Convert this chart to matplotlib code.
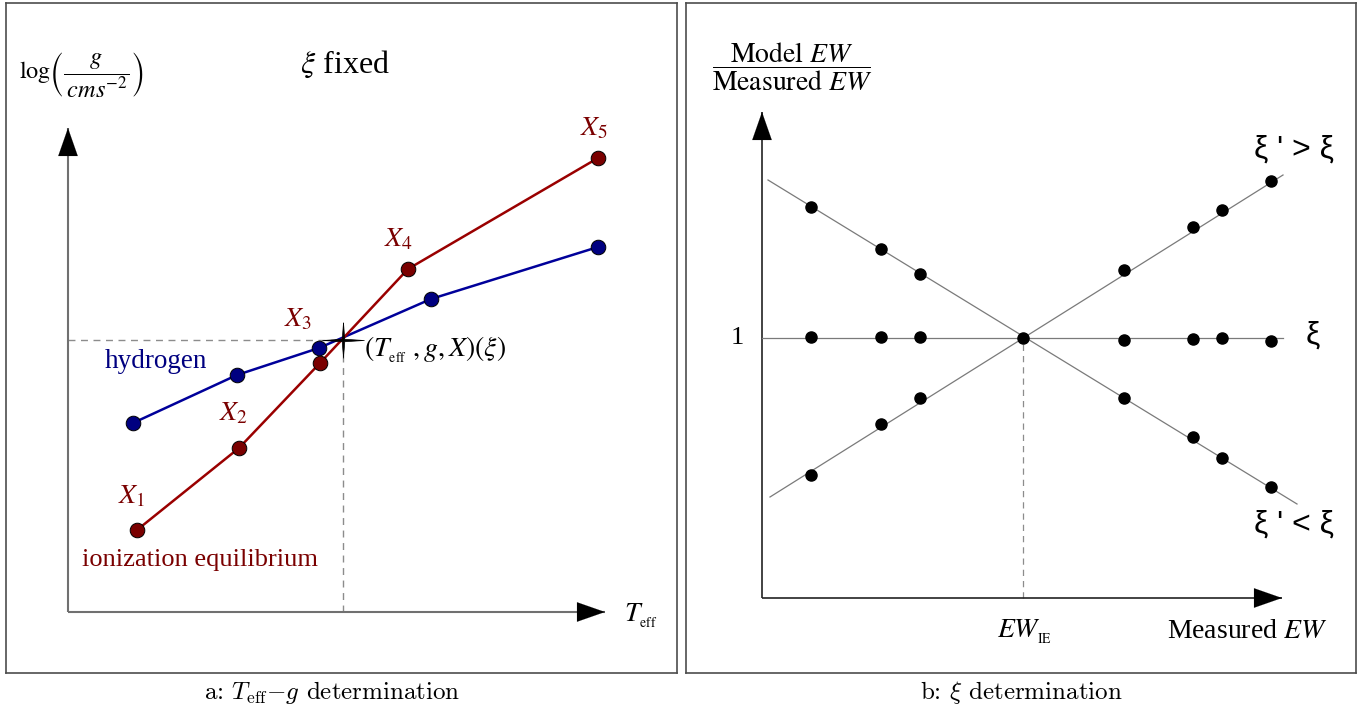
import matplotlib
matplotlib.use("Agg")
import matplotlib.pyplot as plt
from matplotlib.path import Path
import numpy as np

# ---------------- data (schematic units, origin at the axes' corner) ----------------
# panel a: T_eff - log g plane
teff_h = [65, 169, 251, 363, 530]          # hydrogen sequence
logg_h = [189, 237, 264, 313, 365]
teff_ion = [69, 171, 252, 340, 530]        # ionization equilibrium sequence
logg_ion = [82, 164, 249, 343, 454]
x_labels = ["$X_1$", "$X_2$", "$X_3$", "$X_4$", "$X_5$"]
teff_sol, logg_sol = 275, 272              # intersection (solution)

# panel b: model/measured EW vs measured EW
ew = [49, 119, 158, 362, 431, 460, 509]
ratio_low = [391, 349, 324, 200, 161, 140, 111]     # xi' < xi
ratio_mid = [261, 261, 261, 258, 259, 260, 257]     # xi
ratio_high = [123, 174, 200, 328, 371, 388, 417]    # xi' > xi
ew_ie, ratio_one = 261, 260
line_low_x, line_low_y = [6, 535], [418, 94]
line_high_x, line_high_y = [8, 521], [101, 423]
line_mid_x, line_mid_y = [0, 521], [260, 260]

RED_LINE = "#9a0000"
RED_PT = "#7a0000"
BLUE_LINE = "#00009a"
BLUE_PT = "#000080"

plt.rcParams["mathtext.fontset"] = "stix"
SERIF = ["Liberation Serif", "DejaVu Serif"]

W, H = 1362, 707
fig = plt.figure(figsize=(W / 100, H / 100), dpi=100)


def make_axes(box, origin):
    x0, y0, x1, y1 = box           # pixel box (top-left, bottom-right)
    ox, oy = origin
    ax = fig.add_axes([x0 / W, (H - y1) / H, (x1 - x0) / W, (y1 - y0) / H])
    ax.set_xlim(x0 - ox, x1 - ox)
    ax.set_ylim(oy - y1, oy - y0)
    ax.set_xticks([])
    ax.set_yticks([])
    for s in ax.spines.values():
        s.set_color("#4d4d4d")
        s.set_linewidth(1.2)
    return ax


def axis_arrow(ax, x0, y0, x1, y1, lcolor, lw):
    ax.plot([x0, x1], [y0, y1], color=lcolor, lw=lw, solid_capstyle="butt", zorder=2)
    dx, dy = (x1 - x0), (y1 - y0)
    n = np.hypot(dx, dy)
    ax.annotate("", xy=(x1, y1), xytext=(x1 - dx / n * 25, y1 - dy / n * 25),
                arrowprops=dict(arrowstyle="-|>,head_length=1.0,head_width=0.35",
                                color="black", lw=0.1, shrinkA=0, shrinkB=0,
                                mutation_scale=20), zorder=3)


# ---------------- panel a ----------------
axa = make_axes((6, 3, 677, 673), (68, 612))
axis_arrow(axa, 0, 0, 0, 484, "#707070", 1.5)
axis_arrow(axa, 0, 0, 537, 0, "#707070", 1.5)

axa.plot([0, teff_sol], [logg_sol, logg_sol], ls=(0, (5, 4)), color="#8c8c8c", lw=1.0, zorder=1)
axa.plot([teff_sol, teff_sol], [0, logg_sol], ls=(0, (5, 4)), color="#8c8c8c", lw=1.0, zorder=1)

axa.plot(teff_h, logg_h, color=BLUE_LINE, lw=1.8, zorder=4,
         marker="o", ms=10.5, mfc=BLUE_PT, mec="black", mew=0.7)
axa.plot(teff_ion, logg_ion, color=RED_LINE, lw=1.8, zorder=5,
         marker="o", ms=10.5, mfc=RED_PT, mec="black", mew=0.7)

star = Path([(0, 0.85), (0.06, 0.06), (1, 0), (0.06, -0.06), (0, -0.85),
             (-0.06, -0.06), (-1, 0), (-0.06, 0.06), (0, 0.85)])
axa.plot([teff_sol], [logg_sol], marker=star, ms=30, color="black", mew=0.5, zorder=6)

offsets = [(-4, 24), (-4, 25), (-16, 31), (-7, 21), (-3, 21)]
for lab, x, y, off in zip(x_labels, teff_ion, logg_ion, offsets):
    axa.annotate(lab, (x, y), xytext=off, textcoords="offset points",
                 ha="center", va="center", fontsize=20, color=RED_PT, family=SERIF)

axa.text(37, 250, "hydrogen", fontsize=19.5, color=BLUE_PT, family=SERIF, ha="left", va="center")
axa.text(14, 52, "ionization equilibrium", fontsize=19, color=RED_PT, family=SERIF,
         ha="left", va="center")
axa.text(296, 262, r"$(T_{_{\rm eff}}\ , g, X)(\xi)$", fontsize=20, family=SERIF,
         ha="left", va="center")
axa.text(232, 548, r"$\xi$ fixed", fontsize=23, family=SERIF, ha="left", va="center")
axa.text(-49, 538, r"$\log\!\left(\dfrac{g}{\,cms^{-2}}\right)$", fontsize=17.5, family=SERIF,
         ha="left", va="center")
axa.text(556, -4, r"$T_{_{\rm eff}}$", fontsize=20, family=SERIF, ha="left", va="center")

# ---------------- panel b ----------------
axb = make_axes((686, 3, 1356, 673), (762, 598))
axis_arrow(axb, 0, 0, 0, 486, "#222222", 1.2)
axis_arrow(axb, 0, 0, 520, 0, "#222222", 1.2)

axb.plot([ew_ie, ew_ie], [0, ratio_one], ls=(0, (5, 4)), color="#8c8c8c", lw=0.9, zorder=1)
for lx, ly in [(line_low_x, line_low_y), (line_high_x, line_high_y), (line_mid_x, line_mid_y)]:
    axb.plot(lx, ly, color="#7a7a7a", lw=0.9, zorder=2)
for ys in (ratio_low, ratio_mid, ratio_high):
    axb.plot(ew, ys, ls="none", marker="o", ms=8, color="black", zorder=4)
axb.plot([ew_ie], [ratio_one], ls="none", marker="o", ms=8, color="black", zorder=4)

SANS = ["Liberation Sans", "DejaVu Sans"]
axb.text(-18, 260, "1", fontsize=19, family=SERIF, ha="right", va="center")
axb.text(544, 262, "ξ", fontsize=23, family=SANS, ha="left", va="center")
axb.text(492, 448, "ξ ' > ξ", fontsize=23, family=SANS, ha="left", va="center")
axb.text(492, 73, "ξ ' < ξ", fontsize=23, family=SANS, ha="left", va="center")
axb.text(263, -34, r"$EW_{_{\rm IE}}$", fontsize=20, family=SERIF, ha="center", va="center")
axb.text(565, -34, r"Measured $EW$", fontsize=20, family=SERIF, ha="right", va="center")
axb.text(30, 531, r"$\dfrac{\mathrm{Model}\ EW}{\mathrm{Measured}\ EW}$", fontsize=20,
         family=SERIF, ha="center", va="center")

# ---------------- captions ----------------
CAP = ["cmr10", "DejaVu Serif"]
fig.text(332 / W, 1 - 692 / H, r"a: $T_{\rm eff}{-}g$ determination", fontsize=18,
         family=CAP, math_fontfamily="cm", ha="center", va="center")
fig.text(1021 / W, 1 - 692 / H, r"b: $\xi$ determination", fontsize=18,
         family=CAP, math_fontfamily="cm", ha="center", va="center")

fig.savefig("out.png", dpi=100)
